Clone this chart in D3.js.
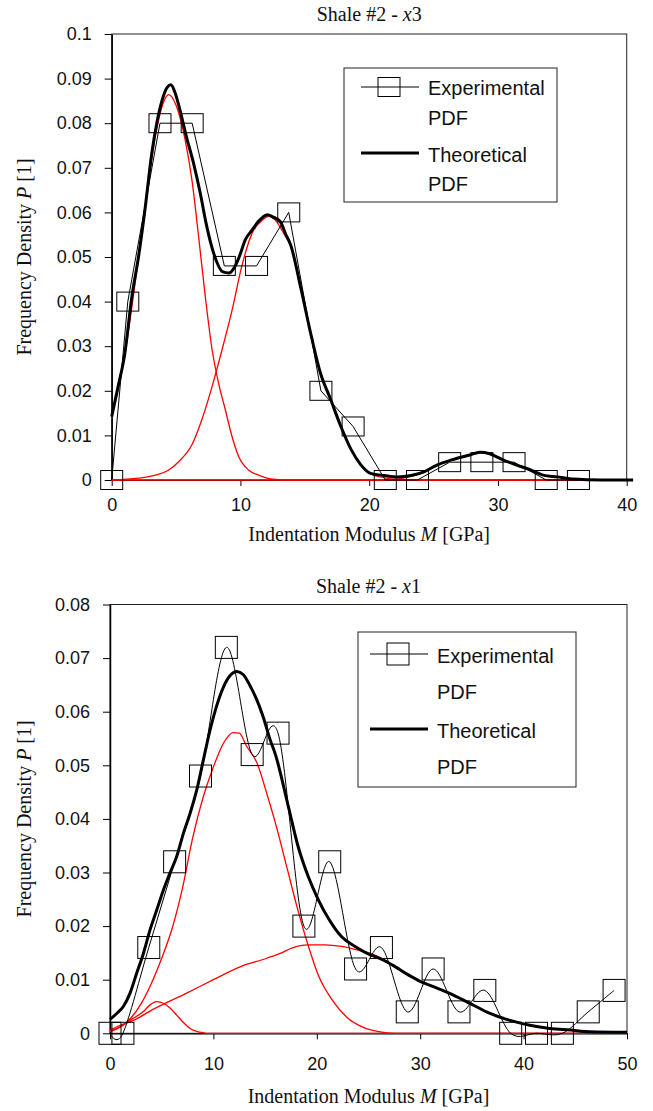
<!DOCTYPE html>
<html>
<head>
<meta charset="utf-8">
<script src="https://cdn.jsdelivr.net/npm/d3@7"></script>
<style>
  body { margin: 0; background: #fff; }
  .tick text { font-family: "Liberation Sans", Arial, sans-serif; font-size: 18px; fill: #111; }
  .serif { font-family: "Liberation Serif", "Times New Roman", serif; font-size: 20px; fill: #111; }
  .legend { font-family: "Liberation Sans", Arial, sans-serif; font-size: 20px; fill: #111; }
</style>
</head>
<body>
<div id="chart"></div>
<script>
// ---------- data: Shale #2 - x3 (top) ----------
var topBinX = [0, 1.25, 3.75, 6.25, 8.75, 11.25, 13.75, 16.25, 18.75, 21.25, 23.75, 26.25, 28.75, 31.25, 33.75, 36.25];
var topExp  = [0, 0.04, 0.08, 0.08, 0.048, 0.048, 0.06, 0.02, 0.012, 0, 0, 0.004, 0.004, 0.004, 0, 0];

var topTheoX = [0, 0.5, 1.0, 1.56, 2.08, 2.6, 3.1, 3.5, 3.9, 4.3, 4.6, 4.9, 5.3, 5.8, 6.36, 6.9, 7.3, 7.8, 8.2, 8.6, 9.1, 9.5, 9.9, 10.4, 10.9, 11.4, 12.1, 12.5, 13.1, 13.5, 13.9, 14.7, 15.5, 16.2, 17.0, 17.8, 18.6, 19.35, 20.1, 21.2, 22.2, 23.25, 24.3, 25.3, 26.4, 27.8, 28.6, 29.35, 30.4, 31.4, 32.5, 33.5, 34.6, 35.9, 38, 40.5];
var topTheoY = [0.0142, 0.021, 0.028, 0.041, 0.050, 0.061, 0.073, 0.080, 0.085, 0.088, 0.0886, 0.087, 0.083, 0.077, 0.071, 0.064, 0.058, 0.052, 0.0486, 0.0467, 0.0464, 0.0475, 0.050, 0.054, 0.056, 0.058, 0.0595, 0.059, 0.0579, 0.0552, 0.0527, 0.0429, 0.0323, 0.0241, 0.0181, 0.012, 0.0068, 0.0034, 0.0015, 0.001, 0.0007, 0.001, 0.0019, 0.0034, 0.0045, 0.0056, 0.0062, 0.0059, 0.0045, 0.0034, 0.0023, 0.0011, 0.0007, 0.0002, 0, 0];

var topComp1X = [0, 1, 2, 3, 3.5, 4, 4.42, 5, 5.7, 6.23, 6.75, 7.27, 7.8, 8.3, 8.83, 9.35, 9.87, 10.65, 11.4, 12.5, 14, 40];
var topComp1Y = [0.014, 0.0278, 0.048, 0.070, 0.0787, 0.0845, 0.0864, 0.084, 0.0763, 0.0673, 0.0546, 0.0411, 0.0292, 0.0217, 0.0157, 0.0097, 0.0052, 0.0022, 0.0011, 0.0002, 0, 0];

var topComp2X = [0, 2.08, 3.4, 4.4, 5.2, 6.23, 7.0, 7.8, 8.57, 9.35, 10.1, 10.9, 11.7, 12.2, 12.7, 13.5, 13.9, 14.7, 15.5, 16.2, 17.0, 17.8, 18.6, 19.35, 20.1, 21.2, 22.2, 24, 40];
var topComp2Y = [0, 0.0004, 0.0011, 0.0022, 0.0041, 0.0079, 0.0135, 0.021, 0.0292, 0.0381, 0.0479, 0.0553, 0.0583, 0.0591, 0.0583, 0.0546, 0.0527, 0.0429, 0.0323, 0.0241, 0.0181, 0.012, 0.0068, 0.0034, 0.0014, 0.0005, 0.0001, 0, 0];

var topComp3X = [0, 20, 22.2, 23.25, 24.3, 25.3, 26.4, 27.8, 28.6, 29.35, 30.4, 31.4, 32.5, 33.5, 34.6, 35.9, 38, 40];
var topComp3Y = [0, 0, 0.0002, 0.0008, 0.0018, 0.0033, 0.0045, 0.0056, 0.0062, 0.0059, 0.0045, 0.0034, 0.0023, 0.0011, 0.0007, 0.0002, 0, 0];

var topXTicks = [0, 10, 20, 30, 40];
var topYTicks = [0, 0.01, 0.02, 0.03, 0.04, 0.05, 0.06, 0.07, 0.08, 0.09, 0.1];
var topYLabels = ["0", "0.01", "0.02", "0.03", "0.04", "0.05", "0.06", "0.07", "0.08", "0.09", "0.1"];

// ---------- data: Shale #2 - x1 (bottom) ----------
var botBinX = [0, 1.25, 3.75, 6.25, 8.75, 11.25, 13.75, 16.25, 18.75, 21.25, 23.75, 26.25, 28.75, 31.25, 33.75, 36.25, 38.75, 41.25, 43.75, 46.25, 48.75];
var botExp  = [0, 0, 0.016, 0.032, 0.048, 0.072, 0.052, 0.056, 0.02, 0.032, 0.012, 0.016, 0.004, 0.012, 0.004, 0.008, 0, 0, 0, 0.004, 0.008];

var botTheoX = [0, 0.65, 1.29, 1.94, 2.58, 3.23, 3.87, 4.52, 5.16, 5.8, 6.45, 7.1, 7.74, 8.39, 9.03, 9.68, 10.3, 10.97, 11.6, 12.26, 12.9, 13.5, 14.2, 14.8, 15.5, 16.0, 17.25, 18.2, 19.18, 20.15, 21.1, 22.4, 23.7, 24.98, 26.3, 27.6, 28.85, 30.1, 31.4, 32.8, 34.8, 36.75, 38.7, 40.6, 42.55, 44.5, 46.4, 50];
var botTheoY = [0.0026, 0.0037, 0.005, 0.0075, 0.0112, 0.0149, 0.0193, 0.023, 0.0267, 0.0299, 0.033, 0.0373, 0.041, 0.0454, 0.051, 0.0566, 0.061, 0.0646, 0.0667, 0.0675, 0.0669, 0.065, 0.0622, 0.0591, 0.0547, 0.052, 0.0423, 0.0348, 0.0292, 0.0249, 0.0215, 0.018, 0.0162, 0.0148, 0.0138, 0.0124, 0.0109, 0.0096, 0.0086, 0.0075, 0.0056, 0.0037, 0.0024, 0.0015, 0.0009, 0.0006, 0.0003, 0.0002];

var botCompAX = [0, 1, 2, 3.2, 3.87, 4.5, 5.16, 5.8, 6.45, 7.1, 7.74, 8.7, 9.35, 50];
var botCompAY = [0.0004, 0.0012, 0.0025, 0.004, 0.0053, 0.0059, 0.0056, 0.0047, 0.0034, 0.002, 0.0009, 0.0002, 0, 0];

var botCompBX = [0, 1, 2, 3, 4, 5, 6, 7, 8, 9, 10, 11, 11.9, 12.5, 13.2, 14.2, 15.2, 16.1, 17.1, 18.1, 19.1, 20.2, 21.5, 22.9, 24.5, 26, 27.5, 50];
var botCompBY = [0.0003, 0.0012, 0.0028, 0.0055, 0.0093, 0.014, 0.0195, 0.027, 0.0365, 0.044, 0.0497, 0.0542, 0.0561, 0.056, 0.0536, 0.0505, 0.0445, 0.0385, 0.031, 0.0235, 0.0168, 0.0106, 0.0062, 0.003, 0.0011, 0.0003, 0, 0];

var botCompCX = [0, 1, 2.26, 4.19, 7.42, 10.0, 12.58, 15.16, 16.45, 17.57, 19.18, 20.8, 22.4, 24.0, 25.6, 27.6, 28.85, 30.1, 31.4, 32.8, 34.8, 36.75, 38.7, 40.6, 42.55, 44.5, 46.4, 50];
var botCompCY = [0.0006, 0.0015, 0.0024, 0.0045, 0.0075, 0.010, 0.0124, 0.014, 0.0149, 0.0159, 0.0165, 0.0165, 0.0162, 0.0155, 0.0146, 0.0124, 0.0109, 0.0096, 0.0086, 0.0075, 0.0056, 0.0037, 0.0024, 0.0015, 0.0009, 0.0006, 0.0003, 0.0002];

var botXTicks = [0, 10, 20, 30, 40, 50];
var botYTicks = [0, 0.01, 0.02, 0.03, 0.04, 0.05, 0.06, 0.07, 0.08];
var botYLabels = ["0", "0.01", "0.02", "0.03", "0.04", "0.05", "0.06", "0.07", "0.08"];

// ---------- layout ----------
var svgWidth = 653;
var svgHeight = 1111;

var svg = d3.select("#chart")
    .append("svg")
    .attr("width", svgWidth)
    .attr("height", svgHeight);

var panels = [
  {
    left: 111.7, right: 626.7, top: 34, bottom: 480,
    xMax: 40, yMax: 0.1, markH: 19,
    title: "3", titleY: 21, tickLabelY: 511, xTitleY: 541,
    xTicks: topXTicks, yTicks: topYTicks, yLabels: topYLabels,
    binX: topBinX, exp: topExp, expCurve: d3.curveLinear,
    theo: [topTheoX, topTheoY],
    comps: [[topComp1X, topComp1Y], [topComp2X, topComp2Y], [topComp3X, topComp3Y]],
    legend: { x: 344, y: 68, w: 213, h: 134, lx1: 361, lx2: 419, sq: 389, ly1: 87, ly2: 153, tx: 428, t: [95, 125, 162, 191] }
  },
  {
    left: 110, right: 627, top: 604.5, bottom: 1033.3,
    xMax: 50, yMax: 0.08, markH: 22,
    title: "1", titleY: 593, tickLabelY: 1070, xTitleY: 1103,
    xTicks: botXTicks, yTicks: botYTicks, yLabels: botYLabels,
    binX: botBinX, exp: botExp, expCurve: d3.curveCatmullRom.alpha(0),
    theo: [botTheoX, botTheoY],
    comps: [[botCompAX, botCompAY], [botCompBX, botCompBY], [botCompCX, botCompCY]],
    legend: { x: 358, y: 632, w: 218, h: 155, lx1: 370, lx2: 428, sq: 398, ly1: 654, ly2: 729, tx: 437, t: [663, 699, 738, 774] }
  }
];

panels.forEach(drawPanel);

function drawPanel(p) {
  var xScale = d3.scaleLinear().domain([0, p.xMax]).range([p.left, p.right]);
  var yScale = d3.scaleLinear().domain([0, p.yMax]).range([p.bottom, p.top]);
  var g = svg.append("g");

  // plot frame
  g.append("rect")
      .attr("x", p.left).attr("y", p.top)
      .attr("width", p.right - p.left).attr("height", p.bottom - p.top)
      .attr("fill", "none").attr("stroke", "#222").attr("stroke-width", 1);

  // axes
  var leftAxis = d3.axisLeft(yScale)
      .tickValues(p.yTicks)
      .tickFormat(function (d, i) { return p.yLabels[i]; })
      .tickSize(7).tickSizeOuter(0).tickPadding(13);
  var yg = g.append("g").attr("transform", "translate(" + p.left + ",0)").call(leftAxis);
  yg.select(".domain").attr("stroke", "#000").attr("stroke-width", 1.5);
  yg.selectAll(".tick line").attr("stroke", "#000");

  var bottomAxis = d3.axisBottom(xScale)
      .tickValues(p.xTicks)
      .tickFormat(d3.format("d"))
      .tickSize(6).tickSizeOuter(0).tickPadding(0);
  var xg = g.append("g").attr("transform", "translate(0," + p.bottom + ")").call(bottomAxis);
  xg.select(".domain").attr("stroke", "#000").attr("stroke-width", 1.2);
  xg.selectAll(".tick line").attr("stroke", "#000");
  xg.selectAll(".tick text").attr("y", p.tickLabelY - p.bottom).attr("dy", null);

  // titles
  var t = g.append("text").attr("class", "serif")
      .attr("x", (p.left + p.right) / 2).attr("y", p.titleY).attr("text-anchor", "middle");
  t.append("tspan").text("Shale #2 - ");
  t.append("tspan").attr("font-style", "italic").text("x");
  t.append("tspan").text(p.title);

  var xt = g.append("text").attr("class", "serif")
      .attr("x", (p.left + p.right) / 2).attr("y", p.xTitleY).attr("text-anchor", "middle");
  xt.append("tspan").text("Indentation Modulus ");
  xt.append("tspan").attr("font-style", "italic").text("M");
  xt.append("tspan").text(" [GPa]");

  var cy = (p.top + p.bottom) / 2;
  var yt = g.append("text").attr("class", "serif")
      .attr("transform", "translate(31," + cy + ") rotate(-90)")
      .attr("text-anchor", "middle");
  yt.append("tspan").text("Frequency Density ");
  yt.append("tspan").attr("font-style", "italic").text("P");
  yt.append("tspan").text(" [1]");

  // red component curves
  var smooth = d3.line()
      .x(function (d) { return xScale(d[0]); })
      .y(function (d) { return yScale(d[1]); })
      .curve(d3.curveMonotoneX);

  p.comps.forEach(function (c) {
    g.append("path")
        .attr("d", smooth(d3.zip(c[0], c[1])))
        .attr("fill", "none").attr("stroke", "#ff0000").attr("stroke-width", 1.3);
  });

  // theoretical PDF
  g.append("path")
      .attr("d", smooth(d3.zip(p.theo[0], p.theo[1])))
      .attr("fill", "none").attr("stroke", "#000").attr("stroke-width", 3)
      .attr("stroke-linejoin", "round");

  // experimental PDF
  var expLine = d3.line()
      .x(function (d) { return xScale(d[0]); })
      .y(function (d) { return yScale(d[1]); })
      .curve(p.expCurve);
  var expData = d3.zip(p.binX, p.exp);
  g.append("path")
      .attr("d", expLine(expData))
      .attr("fill", "none").attr("stroke", "#000").attr("stroke-width", 1);

  g.selectAll("rect.mark")
      .data(expData)
      .enter()
      .append("rect")
      .attr("class", "mark")
      .attr("x", function (d) { return xScale(d[0]) - 11; })
      .attr("y", function (d) { return yScale(d[1]) - p.markH / 2; })
      .attr("width", 22).attr("height", p.markH)
      .attr("fill", "none").attr("stroke", "#000").attr("stroke-width", 1);

  // legend
  var L = p.legend;
  var lg = g.append("g");
  lg.append("rect").attr("x", L.x).attr("y", L.y).attr("width", L.w).attr("height", L.h)
      .attr("fill", "#fff").attr("stroke", "#222").attr("stroke-width", 1);
  lg.append("line").attr("x1", L.lx1).attr("x2", L.lx2).attr("y1", L.ly1).attr("y2", L.ly1)
      .attr("stroke", "#000").attr("stroke-width", 1);
  lg.append("rect").attr("x", L.sq - 11).attr("y", L.ly1 - p.markH / 2).attr("width", 22).attr("height", p.markH)
      .attr("fill", "none").attr("stroke", "#000");
  lg.append("line").attr("x1", L.lx1).attr("x2", L.lx2).attr("y1", L.ly2).attr("y2", L.ly2)
      .attr("stroke", "#000").attr("stroke-width", 3);
  ["Experimental", "PDF", "Theoretical", "PDF"].forEach(function (s, i) {
    lg.append("text").attr("class", "legend").attr("x", L.tx).attr("y", L.t[i]).text(s);
  });
}
</script>
</body>
</html>
